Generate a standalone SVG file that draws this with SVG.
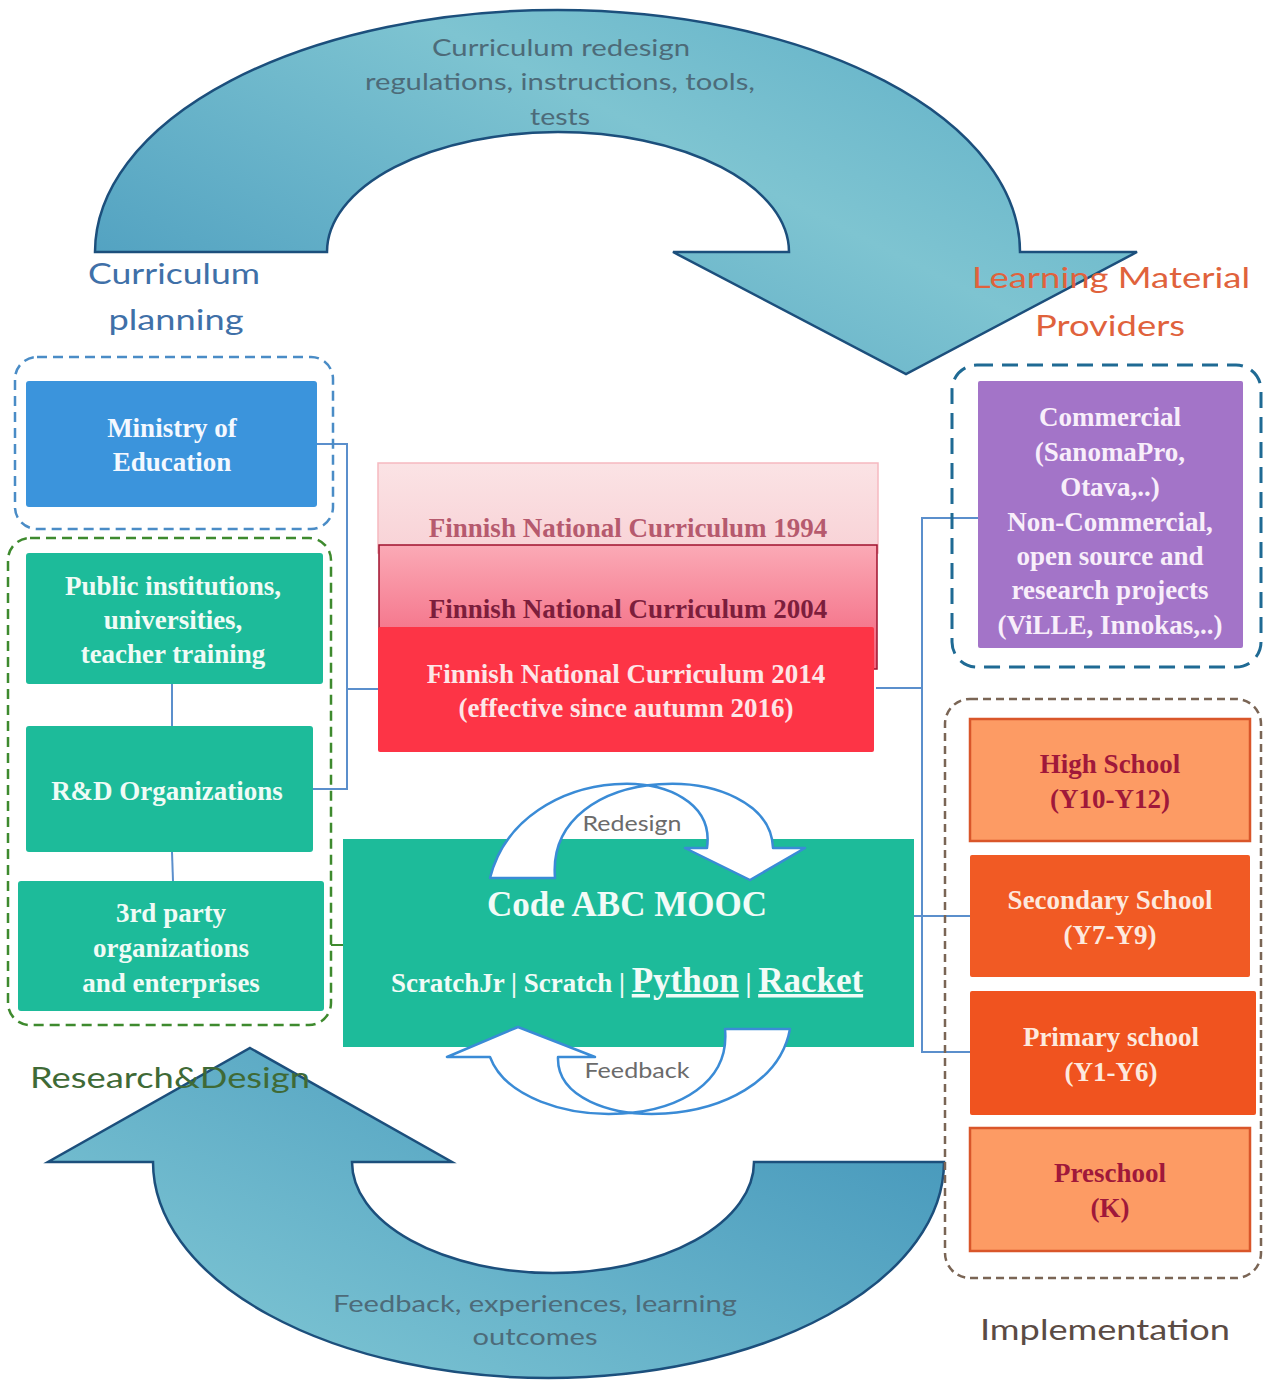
<svg xmlns="http://www.w3.org/2000/svg" width="1263" height="1381" viewBox="0 0 1263 1381">
<style>
.lbl{font-family:Lato,"Open Sans","Liberation Sans",sans-serif;}
.bx{font-family:"Liberation Serif","Times New Roman",serif;font-weight:bold;font-size:27px;text-anchor:middle;}
.big{font-size:35px;}
.conn{stroke:#5b8fcc;stroke-width:2;fill:none;}
.arrowtxt{fill:#4d6b79;font-size:24px;text-anchor:middle;}
.circ{fill:#ffffff;stroke:#3a8bd6;stroke-width:2.5;stroke-linejoin:round;}
</style>
<defs>
<linearGradient id="gTop" x1="0" y1="0.85" x2="1" y2="0.15">
<stop offset="0" stop-color="#4c9dbf"/>
<stop offset="0.6" stop-color="#7ec4d1"/>
<stop offset="1" stop-color="#5fafc7"/>
</linearGradient>
<linearGradient id="gBot" x1="0" y1="1" x2="1" y2="0.2">
<stop offset="0" stop-color="#86ccd7"/>
<stop offset="1" stop-color="#4597bb"/>
</linearGradient>
<linearGradient id="g1994" x1="0" y1="0" x2="0" y2="1">
<stop offset="0" stop-color="#fbe3e5"/>
<stop offset="1" stop-color="#f8d2d6"/>
</linearGradient>
<linearGradient id="g2004" x1="0" y1="0" x2="0" y2="1">
<stop offset="0" stop-color="#fbaab6"/>
<stop offset="1" stop-color="#f2607a"/>
</linearGradient>
</defs>
<rect width="1263" height="1381" fill="#ffffff"/>

<!-- big cycle arrows -->
<g id="arrow-top">
<path d="M95,252 A462.5,242 0 0 1 1020,252 L1137,252 L906,374 L673,252 L789,252 A231,120 0 0 0 327,252 Z" fill="url(#gTop)" stroke="#1c4f7c" stroke-width="2.5" stroke-linejoin="miter"/>
<text class="lbl arrowtxt" x="561" y="56" textLength="258" lengthAdjust="spacingAndGlyphs">Curriculum redesign</text>
<text class="lbl arrowtxt" x="560" y="90" textLength="390" lengthAdjust="spacingAndGlyphs">regulations, instructions, tools,</text>
<text class="lbl arrowtxt" x="560" y="125" textLength="60" lengthAdjust="spacingAndGlyphs">tests</text>
</g>
<g id="arrow-bottom">
<path d="M250,1048 L452,1162 L352,1162 A201,111 0 0 0 754,1162 L944,1162 A395.5,216 0 0 1 153,1162 L48,1162 Z" fill="url(#gBot)" stroke="#1c4f7c" stroke-width="2.5"/>
<text class="lbl arrowtxt" x="535" y="1312" textLength="404" lengthAdjust="spacingAndGlyphs">Feedback, experiences, learning</text>
<text class="lbl arrowtxt" x="535" y="1345" textLength="125" lengthAdjust="spacingAndGlyphs">outcomes</text>
</g>

<!-- connectors -->
<g id="connectors">
<polyline class="conn" points="316,444 347,444 347,789 313,789"/>
<line class="conn" x1="347" y1="689" x2="380" y2="689"/>
<line class="conn" x1="172" y1="684" x2="172" y2="727"/>
<line class="conn" x1="172" y1="852" x2="173" y2="881"/>
<line x1="331" y1="945" x2="343" y2="945" stroke="#3e8a2e" stroke-width="2"/>
<polyline class="conn" points="876,688 922,688"/>
<polyline class="conn" points="978,518 922,518 922,1052 970,1052"/>
<line class="conn" x1="913" y1="916" x2="970" y2="916"/>
</g>

<!-- group labels -->
<g id="label-curriculum-planning">
<text class="lbl" x="174" y="284" font-size="29" fill="#3f70a8" text-anchor="middle" textLength="172" lengthAdjust="spacingAndGlyphs">Curriculum</text>
<text class="lbl" x="176" y="330" font-size="29" fill="#3f70a8" text-anchor="middle" textLength="135" lengthAdjust="spacingAndGlyphs">planning</text>
</g>
<g id="label-providers">
<text class="lbl" x="1111" y="288" font-size="29" fill="#e0623c" text-anchor="middle" textLength="278" lengthAdjust="spacingAndGlyphs">Learning Material</text>
<text class="lbl" x="1110" y="336" font-size="29" fill="#e0623c" text-anchor="middle" textLength="150" lengthAdjust="spacingAndGlyphs">Providers</text>
</g>
<g id="label-research">
<text class="lbl" x="170" y="1088" font-size="29" fill="#3f6a36" text-anchor="middle" textLength="280" lengthAdjust="spacingAndGlyphs">Research&amp;Design</text>
</g>
<g id="label-implementation">
<text class="lbl" x="1105" y="1340" font-size="29" fill="#5b4b44" text-anchor="middle" textLength="250" lengthAdjust="spacingAndGlyphs">Implementation</text>
</g>

<!-- left side -->
<g id="group-curriculum-planning">
<rect x="15" y="357" width="318" height="172" rx="22" fill="none" stroke="#4a8cc6" stroke-width="2.5" stroke-dasharray="10 6"/>
</g>
<g id="node-ministry">
<rect x="26" y="381" width="291" height="126" rx="3" fill="#3b94dc"/>
<text class="bx" x="172" y="437" fill="#f4f8ff">Ministry of</text>
<text class="bx" x="172" y="471" fill="#f4f8ff">Education</text>
</g>
<g id="group-research">
<rect x="8" y="538" width="323" height="487" rx="22" fill="none" stroke="#3e8a2e" stroke-width="2.5" stroke-dasharray="10 6"/>
</g>
<g id="node-public">
<rect x="26" y="553" width="297" height="131" rx="3" fill="#1dbb9a"/>
<text class="bx" x="173" y="595" fill="#f0fbf6">Public institutions,</text>
<text class="bx" x="173" y="629" fill="#f0fbf6">universities,</text>
<text class="bx" x="173" y="663" fill="#f0fbf6">teacher training</text>
</g>
<g id="node-rd">
<rect x="26" y="726" width="287" height="126" rx="3" fill="#1dbb9a"/>
<text class="bx" x="167" y="800" fill="#f0fbf6">R&amp;D Organizations</text>
</g>
<g id="node-3rdparty">
<rect x="18" y="881" width="306" height="130" rx="3" fill="#1dbb9a"/>
<text class="bx" x="171" y="922" fill="#f0fbf6">3rd party</text>
<text class="bx" x="171" y="957" fill="#f0fbf6">organizations</text>
<text class="bx" x="171" y="992" fill="#f0fbf6">and enterprises</text>
</g>

<!-- curriculum stack -->
<g id="node-fnc1994">
<rect x="378" y="463" width="500" height="90" fill="url(#g1994)" stroke="#f6b9c0" stroke-width="1.5"/>
<text class="bx" x="628" y="537" fill="#b65a6e">Finnish National Curriculum 1994</text>
</g>
<g id="node-fnc2004">
<rect x="379" y="545" width="498" height="124" fill="url(#g2004)" stroke="#a0122e" stroke-width="1.5"/>
<text class="bx" x="628" y="618" fill="#7c1e3c">Finnish National Curriculum 2004</text>
</g>
<g id="node-fnc2014">
<rect x="378" y="627" width="496" height="125" rx="2" fill="#fd3446"/>
<text class="bx" x="626" y="683" fill="#fde6e8">Finnish National Curriculum 2014</text>
<text class="bx" x="626" y="717" fill="#fde6e8">(effective since autumn 2016)</text>
</g>

<!-- Code ABC MOOC -->
<g id="node-codeabc">
<rect x="343" y="839" width="571" height="208" fill="#1dbb9a"/>
<path class="circ" d="M490,878 C520,758 720,758 707,848 L685,848 L750,880 L805,848 L773,848 C770,758 545,758 555,878 Z"/>
<path class="circ" d="M725,1029 L790,1029 C770,1137 555,1137 558,1057 L595,1057 L518,1027 L447,1057 L490,1057 C520,1137 735,1137 725,1029 Z"/>
<text class="lbl" x="632" y="831" font-size="22" fill="#6b6b6b" text-anchor="middle" textLength="99" lengthAdjust="spacingAndGlyphs">Redesign</text>
<text class="lbl" x="637" y="1078" font-size="22" fill="#6b6b6b" text-anchor="middle" textLength="105" lengthAdjust="spacingAndGlyphs">Feedback</text>
<text class="bx big" x="627" y="916" fill="#f2fbf7">Code ABC MOOC</text>
<text class="bx" x="627" y="992" fill="#f2fbf7">ScratchJr | Scratch | <tspan class="big" text-decoration="underline">Python</tspan> | <tspan class="big" text-decoration="underline">Racket</tspan></text>
</g>

<!-- right side -->
<g id="group-providers">
<rect x="952" y="365" width="309" height="302" rx="25" fill="none" stroke="#1f6a94" stroke-width="3" stroke-dasharray="16 9"/>
</g>
<g id="node-materials">
<rect x="978" y="381" width="265" height="267" rx="2" fill="#a374c8"/>
<text class="bx" x="1110" y="426" fill="#f8eefa">Commercial</text>
<text class="bx" x="1110" y="461" fill="#f8eefa">(SanomaPro,</text>
<text class="bx" x="1110" y="496" fill="#f8eefa">Otava,..)</text>
<text class="bx" x="1110" y="531" fill="#f8eefa">Non-Commercial,</text>
<text class="bx" x="1110" y="565" fill="#f8eefa">open source and</text>
<text class="bx" x="1110" y="599" fill="#f8eefa">research projects</text>
<text class="bx" x="1110" y="634" fill="#f8eefa">(ViLLE, Innokas,..)</text>
</g>
<g id="group-implementation">
<rect x="945" y="699" width="316" height="579" rx="25" fill="none" stroke="#7a6555" stroke-width="2.5" stroke-dasharray="8 5"/>
</g>
<g id="node-highschool">
<rect x="970" y="719" width="280" height="122" fill="#fd9b64" stroke="#d9562a" stroke-width="2.5"/>
<text class="bx" x="1110" y="773" fill="#a0183a">High School</text>
<text class="bx" x="1110" y="808" fill="#a0183a">(Y10-Y12)</text>
</g>
<g id="node-secondary">
<rect x="970" y="855" width="280" height="122" rx="2" fill="#f15a24"/>
<text class="bx" x="1110" y="909" fill="#fde9de">Secondary School</text>
<text class="bx" x="1110" y="944" fill="#fde9de">(Y7-Y9)</text>
</g>
<g id="node-primary">
<rect x="970" y="991" width="286" height="124" rx="2" fill="#f0531f"/>
<text class="bx" x="1111" y="1046" fill="#fde9de">Primary school</text>
<text class="bx" x="1111" y="1081" fill="#fde9de">(Y1-Y6)</text>
</g>
<g id="node-preschool">
<rect x="970" y="1128" width="280" height="123" fill="#fd9b64" stroke="#d9562a" stroke-width="2.5"/>
<text class="bx" x="1110" y="1182" fill="#a0183a">Preschool</text>
<text class="bx" x="1110" y="1217" fill="#a0183a">(K)</text>
</g>
</svg>
